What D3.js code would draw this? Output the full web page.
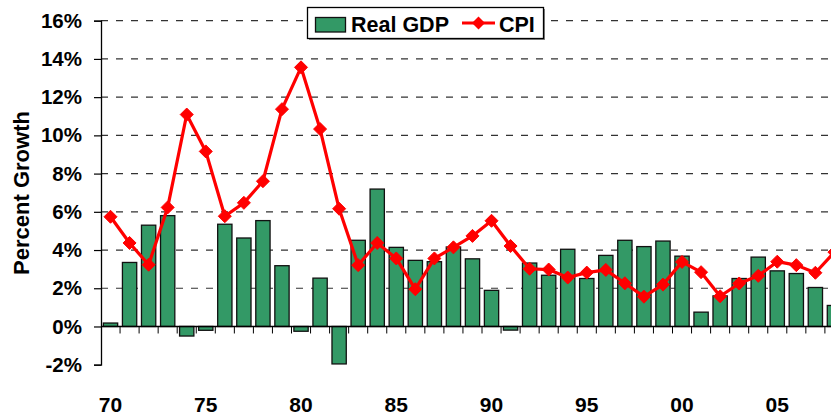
<!DOCTYPE html>
<html>
<head>
<meta charset="utf-8">
<script src="https://cdn.jsdelivr.net/npm/d3@7"></script>
<style>
  body { margin: 0; background: #fff; }
  svg { display: block; font-family: "Liberation Sans", Arial, sans-serif; font-weight: bold; }
</style>
</head>
<body>
<div id="chart"></div>
<script>
var years = d3.range(1970, 2009);

var gdp = [0.18, 3.35, 5.3, 5.8, -0.5, -0.2, 5.35, 4.63, 5.54, 3.18,
           -0.25, 2.53, -1.96, 4.51, 7.19, 4.14, 3.46, 3.39, 4.16, 3.54,
           1.89, -0.19, 3.32, 2.68, 4.04, 2.51, 3.72, 4.51, 4.18, 4.47,
           3.68, 0.75, 1.6, 2.51, 3.63, 2.91, 2.77, 2.04, 1.1];

var cpi = [5.74, 4.37, 3.23, 6.23, 11.09, 9.16, 5.77, 6.47, 7.6, 11.37,
           13.56, 10.33, 6.16, 3.21, 4.37, 3.56, 1.95, 3.56, 4.14, 4.74,
           5.53, 4.21, 3.02, 2.98, 2.56, 2.82, 2.96, 2.26, 1.56, 2.19,
           3.38, 2.84, 1.58, 2.25, 2.65, 3.39, 3.21, 2.81, 3.89];

var yTicks = [-2, 0, 2, 4, 6, 8, 10, 12, 14, 16];
var xLabelYears = [1970, 1975, 1980, 1985, 1990, 1995, 2000, 2005];

var width = 831, height = 416;
var margin = {left: 101, top: 20.7};

var svg = d3.select("#chart").append("svg")
    .attr("width", width)
    .attr("height", height);

var x = d3.scaleBand()
    .domain(years)
    .range([margin.left, margin.left + 39 * 19.05])
    .paddingInner(0.25)
    .paddingOuter(0.125);

var y = d3.scaleLinear()
    .domain([-2, 16])
    .range([364.7, margin.top]);

// dashed gridlines
svg.append("g")
  .selectAll("line")
  .data(yTicks.filter(function(d) { return d > 0; }))
  .enter().append("line")
    .attr("x1", margin.left)
    .attr("x2", width)
    .attr("y1", function(d) { return y(d); })
    .attr("y2", function(d) { return y(d); })
    .attr("stroke", "#333")
    .attr("stroke-width", 1.2)
    .attr("stroke-dasharray", "7,8");

// bars
svg.append("g")
  .selectAll("rect")
  .data(years)
  .enter().append("rect")
    .attr("x", function(d) { return x(d); })
    .attr("y", function(d, i) { return y(Math.max(0, gdp[i])); })
    .attr("width", x.bandwidth())
    .attr("height", function(d, i) { return Math.abs(y(gdp[i]) - y(0)); })
    .attr("fill", "#339966")
    .attr("stroke", "#111")
    .attr("stroke-width", 1.3);

// x axis line at 0 with ticks between bands
svg.append("line")
    .attr("x1", margin.left).attr("x2", width)
    .attr("y1", y(0)).attr("y2", y(0))
    .attr("stroke", "#000").attr("stroke-width", 1.3);

var step = x.step();
svg.append("g")
  .selectAll("line")
  .data(d3.range(1, 40))
  .enter().append("line")
    .attr("x1", function(i) { return margin.left + i * step; })
    .attr("x2", function(i) { return margin.left + i * step; })
    .attr("y1", y(0))
    .attr("y2", y(0) + 7)
    .attr("stroke", "#000")
    .attr("stroke-width", 1);

// y axis
var yAxis = d3.axisLeft(y)
    .tickValues(yTicks)
    .tickSize(7)
    .tickFormat(function(d) { return d + "%"; });

var gy = svg.append("g")
    .attr("transform", "translate(" + margin.left + ",0)")
    .call(yAxis);
gy.select(".domain").attr("stroke", "#000").attr("stroke-width", 1.3);
gy.selectAll(".tick line").attr("stroke", "#000").attr("stroke-width", 1.2);
gy.selectAll(".tick text")
    .attr("x", -19)
    .attr("font-size", 20.5)
    .attr("font-family", "Liberation Sans, Arial, sans-serif")
    .attr("font-weight", "bold")
    .attr("fill", "#000");

// x labels
svg.append("g")
  .selectAll("text")
  .data(xLabelYears)
  .enter().append("text")
    .attr("x", function(d) { return x(d) + x.bandwidth() / 2; })
    .attr("y", 412)
    .attr("text-anchor", "middle")
    .attr("font-size", 21)
    .text(function(d) { return String(d).slice(2); });

// y title
svg.append("text")
    .attr("transform", "translate(29,193) rotate(-90)")
    .attr("text-anchor", "middle")
    .attr("font-size", 22)
    .text("Percent Growth");

// CPI line
var line = d3.line()
    .x(function(d, i) { return x(years[i]) + x.bandwidth() / 2; })
    .y(function(d) { return y(d); });

svg.append("path")
    .datum(cpi)
    .attr("fill", "none")
    .attr("stroke", "#ff0000")
    .attr("stroke-width", 3.2)
    .attr("stroke-linejoin", "round")
    .attr("d", line);

var diamond = "M0,-6.5L6.5,0L0,6.5L-6.5,0Z";
svg.append("g")
  .selectAll("path")
  .data(cpi)
  .enter().append("path")
    .attr("transform", function(d, i) {
      return "translate(" + (x(years[i]) + x.bandwidth() / 2) + "," + y(d) + ")";
    })
    .attr("d", diamond)
    .attr("fill", "#ff0000")
    .attr("stroke", "#ff0000")
    .attr("stroke-width", 1);

// legend
var lg = svg.append("g");
lg.append("rect")
    .attr("x", 309).attr("y", 9).attr("width", 236).attr("height", 31)
    .attr("fill", "#888");
lg.append("rect")
    .attr("x", 307.5).attr("y", 7.5).attr("width", 236).attr("height", 31)
    .attr("fill", "#fff").attr("stroke", "#000").attr("stroke-width", 1.3);
lg.append("rect")
    .attr("x", 315.5).attr("y", 17.5).attr("width", 30).attr("height", 14.5)
    .attr("fill", "#339966").attr("stroke", "#111").attr("stroke-width", 1.3);
lg.append("text")
    .attr("x", 351).attr("y", 31.5)
    .attr("font-size", 21.5)
    .text("Real GDP");
lg.append("line")
    .attr("x1", 462).attr("x2", 495).attr("y1", 23).attr("y2", 23)
    .attr("stroke", "#ff0000").attr("stroke-width", 3.2);
lg.append("path")
    .attr("transform", "translate(478.5,23)")
    .attr("d", diamond)
    .attr("fill", "#ff0000");
lg.append("text")
    .attr("x", 499).attr("y", 31.5)
    .attr("font-size", 21.5)
    .text("CPI");
</script>
</body>
</html>
